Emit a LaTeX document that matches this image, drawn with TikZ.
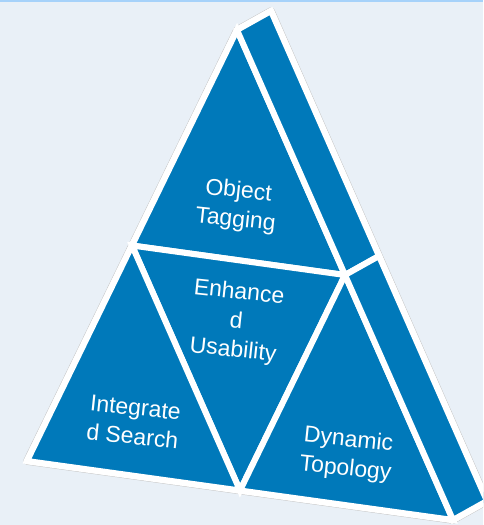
\documentclass[tikz,border=0pt]{standalone}
\usepackage{fontspec}
\setmainfont{Liberation Sans}
\usetikzlibrary{calc}
\definecolor{bgc}{HTML}{E9F0F7}
\definecolor{topline}{HTML}{A6D2FA}
\definecolor{pblue}{HTML}{0079BA}
\begin{document}
\begin{tikzpicture}[x=1pt,y=-1pt,
  face/.style={fill=pblue,draw=white,line width=6pt,line join=miter},
  lbl/.style={text=white,align=center,rotate=-6,font=\fontsize{23}{29}\selectfont,inner sep=0pt}]
\fill[bgc] (0,0) rectangle (483,525);
\useasboundingbox (0,0) rectangle (483,525);
\fill[topline] (0,0) rectangle (483,2);
% key points
\coordinate (A) at (237,30);
\coordinate (B) at (27,461);
\coordinate (C) at (453,520);
\coordinate (Mab) at ($(A)!0.5!(B)$);
\coordinate (Mac) at ($(A)!0.5!(C)$);
\coordinate (Mbc) at ($(B)!0.5!(C)$);
\coordinate (A2) at (271,11);
\coordinate (C2) at (487,501);
\coordinate (Mac2) at ($(A2)!0.5!(C2)$);
\begin{scope}
\clip (0,0) rectangle (483,525);
% outer silhouette with faint shadow
\draw[gray!45,line width=7.5pt,line join=round] (A) -- (A2) -- (C2) -- (C) -- (B) -- cycle;
\draw[fill=white,draw=white,line width=6.5pt,line join=round] (A) -- (A2) -- (C2) -- (C) -- (B) -- cycle;
% faces
\draw[face] (A) -- (Mab) -- (Mac) -- cycle;
\draw[face] (Mab) -- (Mac) -- (Mbc) -- cycle;
\draw[face] (Mab) -- (Mbc) -- (B) -- cycle;
\draw[face] (Mac) -- (C) -- (Mbc) -- cycle;
\draw[face] (A) -- (A2) -- (Mac2) -- (Mac) -- cycle;
\draw[face] (Mac) -- (Mac2) -- (C2) -- (C) -- cycle;
\end{scope}
% labels
\node[lbl] (obj) at (237,206) {Object\\Tagging};
\node[lbl] (enh) at (236,322) {Enhance\\d\\Usability};
\node[lbl] (int) at (134,422) {Integrate\\d Search};
\node[lbl] (dyn) at (347,455) {Dynamic\\Topology};
\end{tikzpicture}
\end{document}
